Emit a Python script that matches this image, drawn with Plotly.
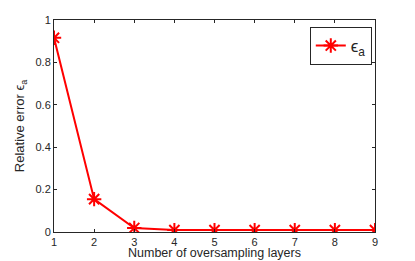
import plotly.graph_objects as go

layers = [1, 2, 3, 4, 5, 6, 7, 8, 9]
rel_error = [0.916, 0.155, 0.019, 0.009, 0.009, 0.009, 0.009, 0.009, 0.009]
y_ticks = [0, 0.2, 0.4, 0.6, 0.8, 1]
y_tick_labels = ["0", "0.2", "0.4", "0.6", "0.8", "1"]

axcol = "#262626"
fig = go.Figure()
fig.add_trace(go.Scatter(
    x=layers, y=rel_error, mode="lines+markers", name="ϵ<sub>a</sub>",
    line=dict(color="#ff0000", width=2),
    marker=dict(symbol="asterisk-open", size=12, color="#ff0000",
                line=dict(color="#ff0000", width=2)),
))
fig.update_layout(
    width=407, height=253,
    margin=dict(l=46, r=40, t=12, b=29),
    paper_bgcolor="white", plot_bgcolor="white",
    font=dict(family="Liberation Sans, Arial, sans-serif", size=11, color=axcol),
    showlegend=True,
    legend=dict(x=0.99, y=0.967, xanchor="right", yanchor="top",
                bordercolor=axcol, borderwidth=1, bgcolor="white",
                font=dict(size=17), itemwidth=30, tracegroupgap=0),
    xaxis=dict(range=[1, 9], tickvals=layers, ticks="inside", ticklen=3,
               automargin=False,
               showline=True, linecolor=axcol, linewidth=1, mirror="ticks",
               showgrid=False, zeroline=False, tickcolor=axcol),
    yaxis=dict(range=[0, 1], tickvals=y_ticks, ticktext=y_tick_labels,
               ticks="inside", ticklen=3, automargin=False,
               showline=True, linecolor=axcol, linewidth=1, mirror="ticks",
               showgrid=False, zeroline=False, tickcolor=axcol,
               title=dict(text="Relative error ϵ<sub>a</sub>", standoff=7,
                          font=dict(size=13))),
    annotations=[dict(text="Number of oversampling layers", xref="paper", yref="paper",
                      x=0.5, y=0, yshift=-28.5, xanchor="center", yanchor="bottom",
                      borderpad=0,
                      showarrow=False, font=dict(size=12.5, color=axcol))],
)
fig.write_html("out.html")
